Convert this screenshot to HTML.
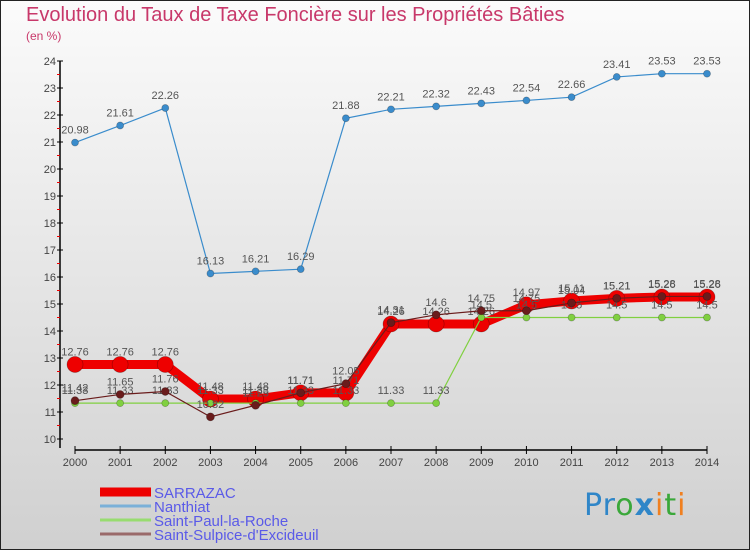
<!DOCTYPE html>
<html><head><meta charset="utf-8"><style>
body{margin:0;width:750px;height:550px;overflow:hidden;font-family:"Liberation Sans",sans-serif}
#wrap{position:relative;width:748px;height:548px;border:1px solid #222;background:linear-gradient(#fbfbfb,#d0d0d0)}
.t{position:absolute;color:#c8386a}
</style></head><body>
<div id="wrap">
<div class="t" style="left:25px;top:3px;font-size:20px">Evolution du Taux de Taxe Foncière sur les Propriétés Bâties</div>
<div class="t" style="left:25px;top:28px;font-size:12px">(en %)</div>
<svg id="chart" width="750" height="550" style="position:absolute;left:-1px;top:-1px"></svg>
<div style="position:absolute;left:583px;top:487px;font-size:30px;font-family:'DejaVu Sans',sans-serif;letter-spacing:1px"><span style="color:#2f86c8">Pr</span><span style="color:#3aa83a">o</span><span style="color:#2f86c8;font-weight:bold">x</span><span style="color:#f08020">i</span><span style="color:#3aa83a">t</span><span style="color:#f08020">i</span></div>
</div>
<script>
const years=[2000,2001,2002,2003,2004,2005,2006,2007,2008,2009,2010,2011,2012,2013,2014];
const sarrazac=[12.76,12.76,12.76,11.48,11.48,11.71,11.71,14.26,14.26,14.26,14.97,15.11,15.21,15.26,15.26];
const nanthiat=[20.98,21.61,22.26,16.13,16.21,16.29,21.88,22.21,22.32,22.43,22.54,22.66,23.41,23.53,23.53];
const saintPaul=[11.33,11.33,11.33,11.33,11.33,11.33,11.33,11.33,11.33,14.5,14.5,14.5,14.5,14.5,14.5];
const saintSulpice=[11.42,11.65,11.76,10.82,11.25,11.71,12.05,14.31,14.6,14.75,14.75,15.04,15.21,15.28,15.28];
const yTicks=[10,11,12,13,14,15,16,17,18,19,20,21,22,23,24];
const NS='http://www.w3.org/2000/svg';
const svg=document.getElementById('chart');
const x=i=>75+i*(707-75)/(years.length-1);
const y=v=>439-(v-10)*27;
function mk(tag,attrs,parent){const e=document.createElementNS(NS,tag);for(const k in attrs)e.setAttribute(k,attrs[k]);(parent||svg).appendChild(e);return e;}
const ya=mk('line',{x1:60,y1:y(24),x2:60,y2:448,stroke:'#000','stroke-width':1.5});


const xa=mk('line',{x1:75,y1:450,x2:707,y2:450,stroke:'#000','stroke-width':1.5});


yTicks.forEach(v=>{
  mk('line',{x1:57,y1:y(v),x2:63,y2:y(v),stroke:'#000'});
  if(v<24) mk('line',{x1:57,y1:y(v+0.5),x2:60,y2:y(v+0.5),stroke:'#e00'});
  const t=mk('text',{x:56,y:y(v)+4,'text-anchor':'end','font-size':11,fill:'#444'});
  t.textContent=v;
  
  
});
years.forEach((yr,i)=>{
  mk('line',{x1:x(i),y1:446,x2:x(i),y2:454,stroke:'#000'});
  const t=mk('text',{x:x(i),y:466,'text-anchor':'middle','font-size':11,fill:'#444'});
  t.textContent=yr;
  
  
});
function series(data,color,w,r,name){
  const g=mk('g',{});
  
  
  mk('polyline',{points:data.map((v,i)=>x(i)+','+y(v)).join(' '),fill:'none',stroke:color,'stroke-width':w},g);
  data.forEach((v,i)=>{
    const c=mk('circle',{cx:x(i),cy:y(v),r:r,fill:color,stroke:'rgba(0,0,0,0.3)','stroke-width':0.7},g);
    
    
    const t=mk('text',{x:x(i),y:y(v)-9,'text-anchor':'middle','font-size':11,fill:'#555'},g);
    t.textContent=v;
    
    
  });
}
series(nanthiat,'#3a8ccc',1.2,3.5,'nanthiat');
series(sarrazac,'#ee0000',9,8,'sarrazac');
series(saintPaul,'#80d040',1.2,3.5,'saint-paul');
series(saintSulpice,'#6a1c1c',1.2,4,'saint-sulpice');
const leg=[['SARRAZAC','#ee0000',9],['Nanthiat','#7ab0d8',3],['Saint-Paul-la-Roche','#98dc70',3],['Saint-Sulpice-d\'Excideuil','#9a6a6a',3]];
leg.forEach((l,i)=>{
  const g=mk('g',{});
  
  
  const ly=492+i*14;
  mk('line',{x1:100,y1:ly,x2:151,y2:ly,stroke:l[1],'stroke-width':l[2]},g);
  const t=mk('text',{x:154,y:ly+6,'font-size':15,fill:'#5a5ae8'},g);
  t.textContent=l[0];
});
</script>
</body></html>
